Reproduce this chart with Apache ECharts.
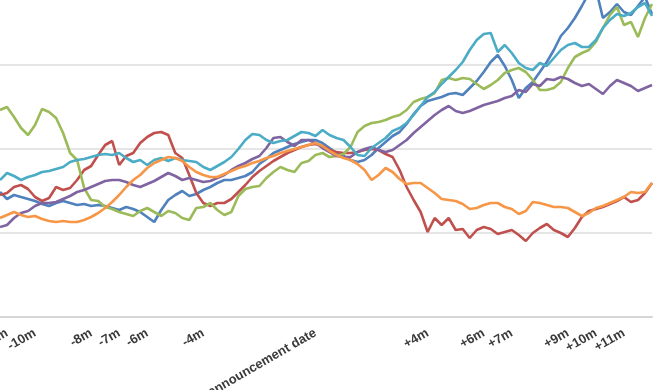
<!DOCTYPE html>
<html><head><meta charset="utf-8">
<script src="https://cdn.jsdelivr.net/npm/echarts@6/dist/echarts.min.js"></script>
<style>html,body{margin:0;padding:0;background:#fff}#c{width:660px;height:390px}</style>
</head><body><div id="c"></div>
<script>
// months relative to the announcement date
var months = [-11.25,-11,-10.75,-10.5,-10.25,-10,-9.75,-9.5,-9.25,-9,-8.75,-8.5,-8.25,-8,-7.75,-7.5,-7.25,-7,-6.75,-6.5,-6.25,-6,-5.75,-5.5,-5.25,-5,-4.75,-4.5,-4.25,-4,-3.75,-3.5,-3.25,-3,-2.75,-2.5,-2.25,-2,-1.75,-1.5,-1.25,-1,-0.75,-0.5,-0.25,0,0.25,0.5,0.75,1,1.25,1.5,1.75,2,2.25,2.5,2.75,3,3.25,3.5,3.75,4,4.25,4.5,4.75,5,5.25,5.5,5.75,6,6.25,6.5,6.75,7,7.25,7.5,7.75,8,8.25,8.5,8.75,9,9.25,9.5,9.75,10,10.25,10.5,10.75,11,11.25,11.5,11.75,12];

var tickMonths = [-11,-10,-8,-7,-6,-4,0,4,6,7,9,10,11];
var tickLabels = ['-11m','-10m','-8m','-7m','-6m','-4m','announcement date','+4m','+6m','+7m','+9m','+10m','+11m'];

var blue = [89.25,87.5,88.5,88,87.5,87,86.25,85.75,86.5,87,86.5,86,86.25,85.75,86,85.75,85.25,84.75,85.5,85,84.25,83,81.75,84.75,87.25,88.5,89.5,88.25,88.75,89.75,90.5,91.5,92.25,92.25,92.75,93.25,94.25,96.25,97.5,99,99.75,100.5,101.25,101.75,102.25,102.25,
  101.5,100.25,99,98.25,97.25,96.75,97.25,98.5,100.25,101.75,103.25,104.25,106.25,108.75,110.75,112,112.5,113,113.75,114,113.5,115.25,117,119.25,121.75,123.5,120.75,117.25,112.75,115.25,116.75,119.25,121.75,124.75,128.25,130.25,132.75,135.75,139,140,132.75,134.25,136.25,134.25,133.5,135.75,138,133.75];

var red = [88.5,89,90.5,91,90,88,87,87.75,90.5,89.75,90.25,92.25,94.75,95.75,98.5,101,102,96,98.25,99,101.5,103,104,104.25,103.5,99,97.75,93.5,89,86.5,85.75,86.5,86.5,87.5,89.25,91,93,94.5,95.75,97,98,99,99.75,100.5,101,101.25,
  100.75,99.75,99.25,99,99,99.25,99.75,100,99.75,98.75,98,94.75,90.5,87.25,84.25,79.25,82.75,81,82.75,79.75,80,77.75,79.75,80.5,80,78.75,79.25,79.75,78.5,77,79,80.25,81.25,79.75,79,78,80.25,83,84.5,85,85.5,86.25,87,88,86.75,87.25,89,91.5];

var green = [109.75,110.5,108,105.25,103.5,106,110,109.25,107.75,104,99,97.25,90.25,87.25,87,85.5,85,84.25,83.75,83.25,84.5,85.25,84.25,83.25,84.5,84,82.75,82.25,85.25,85.5,86.5,84.75,83.5,84.25,88.25,90,90.5,90.75,92.75,94.25,95.5,94.75,94.25,96.5,97,98.5,
  99,98,98.25,98.75,100.5,104.25,105.75,106.5,106.75,107.25,108,108.5,109.75,111.75,112.5,113,114,117.25,117.75,117.25,117.75,117.5,116.25,115,116,117.25,119,119.75,120.25,119.25,117.25,114.75,114.75,115.25,116.75,120.25,123,124,124.75,126.75,130.25,133.5,135.5,131,131.75,128,132.75,136.25];

var purple = [80.5,81,82.75,84,84.5,85.75,86.5,86.5,86.75,87.5,88.25,89.25,89.75,90.5,91.25,92,92.25,92.25,91.75,91,90.5,91.25,92,93,94,93.25,92.25,92.75,92.25,91.75,92,92.75,93.5,94.75,95.75,96.5,97.5,98.25,100.25,102.75,103,101.75,100.75,102.25,102.25,101.5,
  100.25,99.25,98.25,98,98,99.25,100,100.5,99.75,99.25,99.75,101,102.25,104,105.5,107,108.5,109.75,110.75,109.5,109,109.5,110.25,111,111.5,112,112.75,113.25,114.75,114.25,116.25,115.75,117.5,117.25,118,117.5,116.5,115.75,116.25,115,113.75,115.75,117.25,116.5,115.75,114.5,115.25,116];

var aqua = [92.25,94,93.25,92.25,93,93.5,94.25,94.5,95,95.5,96.75,97.25,97.5,98,98.5,98.75,98.5,99,97.75,96.75,97.25,96,97.25,97.75,97,97.75,97.25,97,96.75,95.5,94.75,95.75,96.75,98,100,102.25,103.75,103.5,102.25,101.5,102,102.25,103.25,104.25,104,103.25,
  104.75,103.5,102.75,102.25,100.5,98.5,98.25,100.25,101.5,102.75,104.5,105.25,106.5,108.5,110.75,113,114.25,116.25,118,119.75,121.75,124.75,127.25,128.75,129,124.25,126,124,121.5,120.25,119.75,121.5,120.75,122.75,124.75,126,126.5,125.5,125.5,127.25,130.25,132.25,133.75,133.25,134,135.5,136.5,133.25];

var orange = [82.75,83.5,84.25,83.5,83,83.25,82.5,82,81.75,82,81.75,81.75,82.25,83,84,85.25,86.75,88.5,90.5,92.25,93.5,95.25,96.5,97.25,98,97.75,97,95.5,94.25,93.5,93,93,93.75,94.5,95.25,95.75,96.5,97,97.75,98.25,99,99.5,100,100.5,101,101.5,
  100.75,99.5,98.5,97.75,97.25,96.25,94.75,92.25,93.5,95.25,94.25,92.5,91.25,91.5,91.5,90.25,89,87.5,87.25,87,86.25,85,85.25,86,86.5,86.5,85.5,85,83.75,84.5,86.75,86.5,86,85.5,85.5,85.25,84.25,83.25,84,85.25,85.75,86.5,87.25,88,89.25,89,89.25,91.5];

var seriesNames = ['Blue','Red','Green','Purple','Aqua','Orange'];
var seriesData = [blue, red, green, purple, aqua, orange];
var colors = ['#4F81BD','#C0504D','#9BBB59','#8064A2','#4BACC6','#F79646'];

function pairs(arr){ return arr.map(function(v,i){ return [months[i], v]; }); }

var chart = echarts.init(document.getElementById('c'), null, {renderer:'canvas'});
chart.setOption({
  animation: false,
  color: colors,
  grid: {left: 0, right: 8, top: -19, bottom: 73, containLabel: false, outerBoundsMode: 'none'},
  xAxis: {
    type: 'value', min: -11.25, max: 12,
    splitLine: {show: false},
    axisTick: {show: false},
    axisLine: {show: true, lineStyle: {color: '#d6d6d6', width: 2}},
    axisLabel: {
      customValues: tickMonths,
      rotate: 30, margin: 15, hideOverlap: false,
      fontFamily: 'Liberation Sans, Arial, sans-serif', fontSize: 13, fontWeight: 'bold', color: '#3a3a3a',
      formatter: function(v){ var i = tickMonths.indexOf(v); return i >= 0 ? tickLabels[i] : ''; }
    }
  },
  yAxis: {
    type: 'value', min: 58, max: 142, interval: 21,
    axisLabel: {show: false}, axisTick: {show: false}, axisLine: {show: false},
    splitLine: {lineStyle: {color: '#dcdcdc', width: 1.5}}
  },
  series: seriesData.map(function(d, i){
    return {name: seriesNames[i], type: 'line', data: pairs(d), showSymbol: false, symbol: 'none',
      lineStyle: {width: 2.6, color: colors[i]}, clip: true};
  })
});
</script></body></html>
